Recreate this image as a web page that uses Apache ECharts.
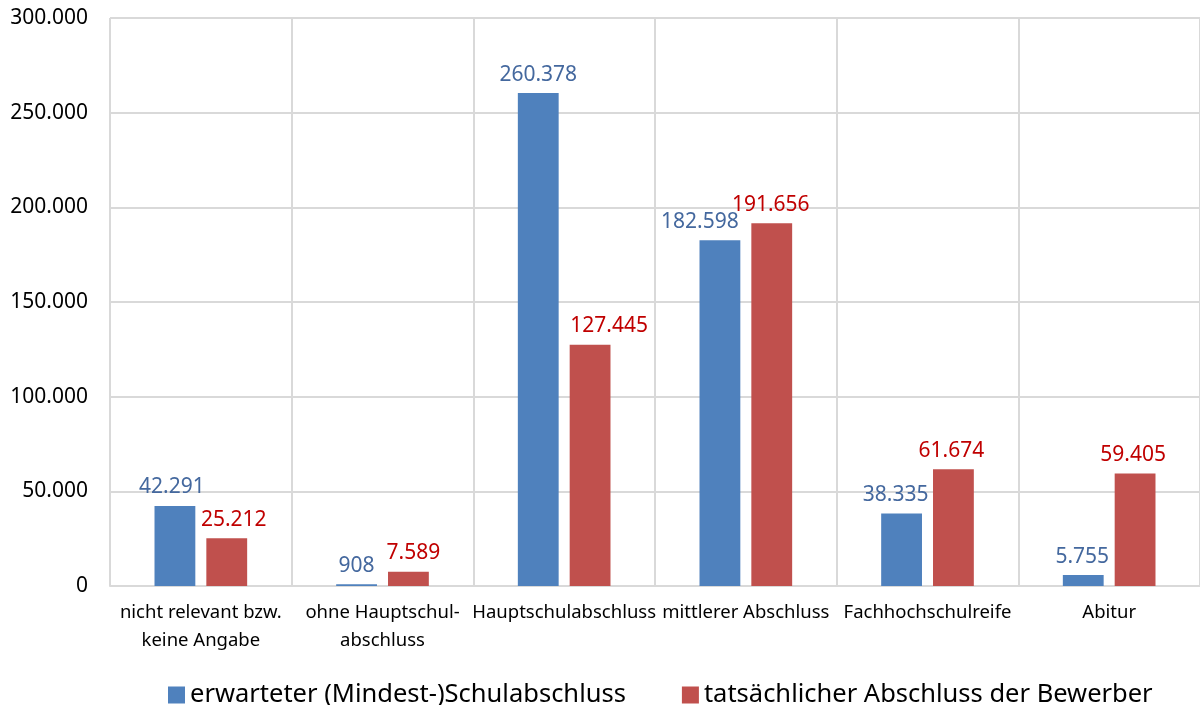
<!DOCTYPE html>
<html>
<head>
<meta charset="utf-8">
<script src="https://cdn.jsdelivr.net/npm/echarts@6/dist/echarts.min.js"></script>
<style>
  html, body { margin: 0; padding: 0; background: #fff; }
  #chart { width: 1200px; height: 705px; }
</style>
</head>
<body>
<div id="chart"></div>
<script>
var categories = [
    'nicht relevant bzw.\nkeine Angabe',
    'ohne Hauptschul-\nabschluss',
    'Hauptschulabschluss',
    'mittlerer Abschluss',
    'Fachhochschulreife',
    'Abitur'
];
var erwartet = [42291, 908, 260378, 182598, 38335, 5755];
var tatsaechlich = [25212, 7589, 127445, 191656, 61674, 59405];
var seriesNames = ['erwarteter (Mindest-)Schulabschluss', 'tatsächlicher Abschluss der Bewerber'];

// horizontal nudges of the value labels (as placed in the original)
var shiftBlue = [-3, 0, 0, -20, -6, -1];
var shiftRed = [7, 5, 19, -1, -2, -2];

function fmt(v) {
    return String(v).replace(/\B(?=(\d{3})+(?!\d))/g, '.');
}

function withShift(values, shifts) {
    return values.map(function (v, i) {
        return { value: v, label: { offset: [shifts[i], 0] } };
    });
}

var myChart = echarts.init(document.getElementById('chart'));
var font = 'Noto Sans, sans-serif';

var option = {
    animation: false,
    textStyle: { fontFamily: font },
    grid: {
        left: 110,
        right: -2,
        top: 18,
        bottom: 119,
        containLabel: false
    },
    legend: {
        top: 677,
        left: 163,
        itemWidth: 17,
        itemHeight: 17,
        itemGap: 56,
        itemTextGap: 4,
        icon: 'rect',
        textStyle: { fontSize: 25.5, color: '#000', fontFamily: font },
        data: seriesNames
    },
    xAxis: {
        type: 'category',
        data: categories,
        axisLine: { lineStyle: { color: '#d9d9d9', width: 2 } },
        axisTick: { show: false },
        splitLine: { show: true, lineStyle: { color: '#d9d9d9', width: 2 } },
        axisLabel: {
            color: '#000',
            fontSize: 18.5,
            lineHeight: 28,
            margin: 13,
            interval: 0
        }
    },
    yAxis: {
        type: 'value',
        min: 0,
        max: 300000,
        interval: 50000,
        axisLine: { show: false },
        axisTick: { show: false },
        splitLine: { lineStyle: { color: '#d9d9d9', width: 2 } },
        axisLabel: {
            color: '#000',
            fontSize: 21,
            margin: 22,
            formatter: function (v) { return fmt(v); }
        }
    },
    series: [{
        name: seriesNames[0],
        type: 'bar',
        data: withShift(erwartet, shiftBlue),
        itemStyle: { color: '#4f81bd' },
        barGap: '27%',
        barCategoryGap: '49%',
        label: {
            show: true,
            position: 'top',
            distance: 8,
            color: '#44689e',
            fontSize: 21,
            formatter: function (p) { return fmt(p.value); }
        }
    }, {
        name: seriesNames[1],
        type: 'bar',
        data: withShift(tatsaechlich, shiftRed),
        itemStyle: { color: '#c0504d' },
        label: {
            show: true,
            position: 'top',
            distance: 8,
            color: '#c00000',
            fontSize: 21,
            formatter: function (p) { return fmt(p.value); }
        }
    }]
};

myChart.setOption(option);
</script>
</body>
</html>
